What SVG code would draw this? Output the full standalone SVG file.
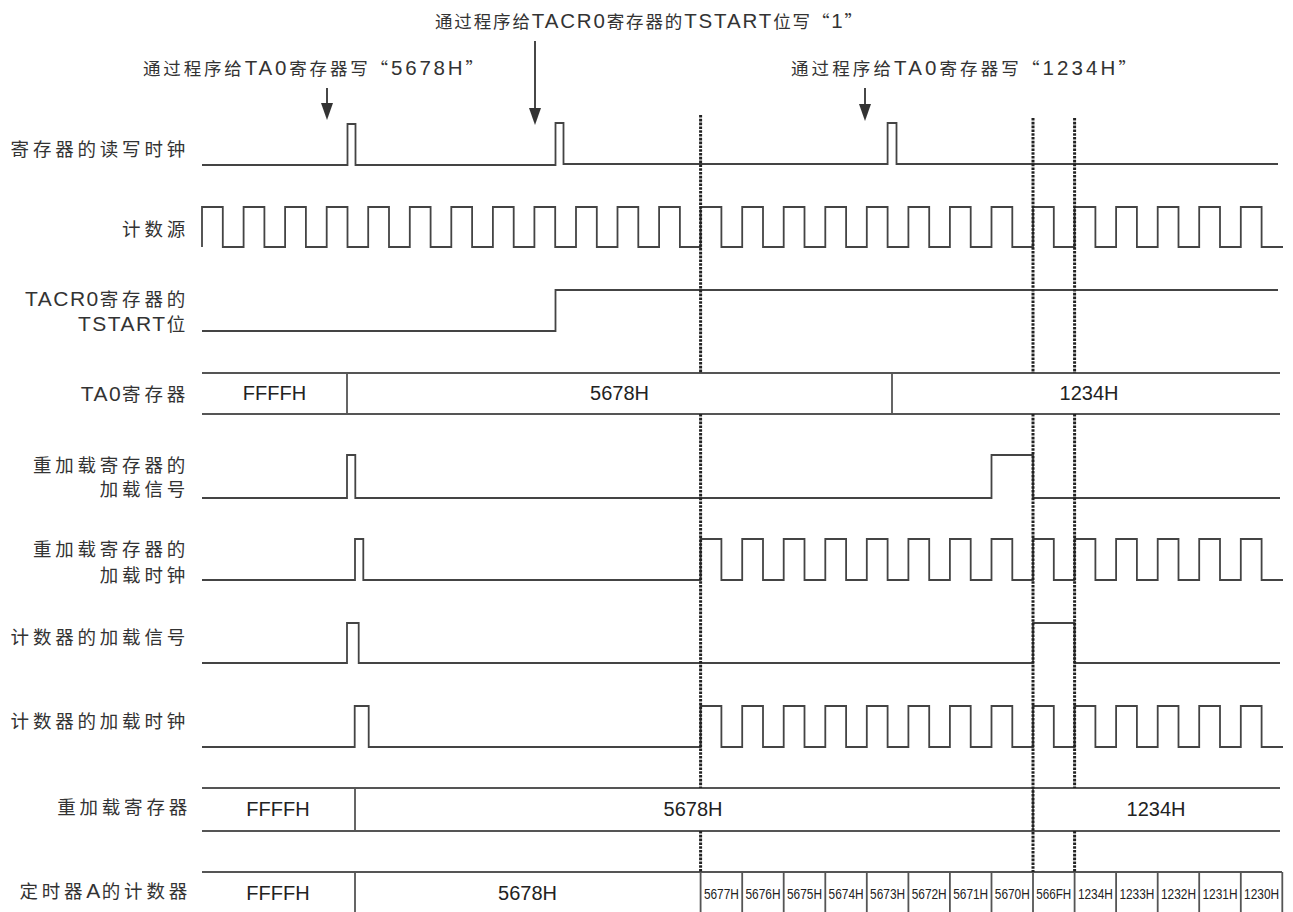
<svg xmlns="http://www.w3.org/2000/svg" width="1293" height="912" viewBox="0 0 1293 912">
<style>
.lbl{font-family:"Liberation Sans","Noto Sans CJK SC",sans-serif;font-size:18.5px;fill:#333;text-anchor:end;letter-spacing:3.8px}
.note{font-family:"Liberation Sans","Noto Sans CJK SC",sans-serif;font-size:17.5px;fill:#333}
.lat{font-size:21px;letter-spacing:1.5px}
.nlat{font-size:20.5px}
.q{font-family:"Noto Sans CJK SC",sans-serif}
.val{font-family:"Liberation Sans",sans-serif;font-size:20px;fill:#222;text-anchor:middle}
.cell{font-family:"Liberation Sans",sans-serif;font-size:15px;fill:#222;text-anchor:middle}
.wave{fill:none;stroke:#444;stroke-width:1.8;stroke-linejoin:miter}
.bus{fill:none;stroke:#555;stroke-width:1.8}
.dot{fill:none;stroke:#222;stroke-width:3;stroke-dasharray:2.6 1.2}
.arr{stroke:#333;stroke-width:1.8}
</style>
<defs>
<marker id="ah" viewBox="0 0 17 12" refX="2" refY="6" markerWidth="17" markerHeight="12" markerUnits="userSpaceOnUse" orient="auto">
<path d="M0,0 L17,6 L0,12 z" fill="#333"/>
</marker>
</defs>
<rect width="1293" height="912" fill="#fff"/>

<g id="notes">
<text class="note" x="435" y="28" textLength="427">通过程序给<tspan class="nlat">TACR0</tspan>寄存器的<tspan class="nlat">TSTART</tspan>位写<tspan class="q">“</tspan><tspan class="nlat">1</tspan><tspan class="q">”</tspan></text>
<text class="note" x="143" y="75" textLength="340">通过程序给<tspan class="nlat">TA0</tspan>寄存器写<tspan class="q">“</tspan><tspan class="nlat">5678H</tspan><tspan class="q">”</tspan></text>
<text class="note" x="791" y="75" textLength="345">通过程序给<tspan class="nlat">TA0</tspan>寄存器写<tspan class="q">“</tspan><tspan class="nlat">1234H</tspan><tspan class="q">”</tspan></text>
</g>

<g id="connectors">
<line class="arr" x1="327" y1="88" x2="327" y2="105" marker-end="url(#ah)"/>
<line class="arr" x1="535" y1="41" x2="535" y2="110" marker-end="url(#ah)"/>
<line class="arr" x1="865" y1="88" x2="865" y2="106" marker-end="url(#ah)"/>
</g>

<g id="sig-rwclk">
<text class="lbl" x="189" y="156">寄存器的读写时钟</text>
<path class="wave" d="M202,165 H347.5 V124 H355.5 V165 H555.5 V123 H563.5 V164 H887.6 V123 H896.5 V164 H1278"/>
</g>

<g id="sig-countsrc">
<text class="lbl" x="189" y="236">计数源</text>
<path class="wave" d="M202,247 V207 H222.8 V247 H243.6 V207 H264.4 V247 H285.1 V207 H305.9 V247 H326.7 V207 H347.5 V247 H368.2 V207 H389 V247 H409.8 V207 H430.6 V247 H451.3 V207 H472.1 V247 H492.9 V207 H513.7 V247 H534.4 V207 H555.2 V247 H576 V207 H596.8 V247 H617.5 V207 H638.3 V247 H659.1 V207 H679.9 V247 H700.6 V207 H721.4 V247 H742.2 V207 H763 V247 H783.7 V207 H804.5 V247 H825.3 V207 H846.1 V247 H866.8 V207 H887.6 V247 H908.4 V207 H929.2 V247 H949.9 V207 H970.7 V247 H991.5 V207 H1012.3 V247 H1033 V207 H1053.8 V247 H1074.6 V207 H1095.4 V247 H1116.1 V207 H1136.9 V247 H1157.7 V207 H1178.5 V247 H1199.2 V207 H1220 V247 H1240.8 V207 H1261.6 V247 H1283"/>
</g>

<g id="sig-tstart">
<text class="lbl" x="189" y="306"><tspan class="lat">TACR0</tspan>寄存器的</text>
<text class="lbl" x="189" y="331"><tspan class="lat">TSTART</tspan>位</text>
<path class="wave" d="M202,331 H555.5 V290 H1278"/>
</g>

<g id="sig-ta0">
<text class="lbl" x="189" y="401"><tspan class="lat">TA0</tspan>寄存器</text>
<path class="bus" d="M202,373 H1280 M202,414 H1280 M347,373 V414 M892,373 V414"/>
<text class="val" x="274.5" y="400">FFFFH</text>
<text class="val" x="619.5" y="400">5678H</text>
<text class="val" x="1089" y="400">1234H</text>
</g>

<g id="sig-reloadsig">
<text class="lbl" x="189" y="472">重加载寄存器的</text>
<text class="lbl" x="189" y="496">加载信号</text>
<path class="wave" d="M202,498 H347 V455 H355.3 V498 H991.5 V455 H1033 V498 H1280"/>
</g>

<g id="sig-reloadclk">
<text class="lbl" x="189" y="556">重加载寄存器的</text>
<text class="lbl" x="189" y="582">加载时钟</text>
<path class="wave" d="M202,580 H355 V539 H363.3 V580 H700.6 V539 H721.4 V580 H742.2 V539 H763 V580 H783.7 V539 H804.5 V580 H825.3 V539 H846.1 V580 H866.8 V539 H887.6 V580 H908.4 V539 H929.2 V580 H949.9 V539 H970.7 V580 H991.5 V539 H1012.3 V580 H1033 V539 H1053.8 V580 H1074.6 V539 H1095.4 V580 H1116.1 V539 H1136.9 V580 H1157.7 V539 H1178.5 V580 H1199.2 V539 H1220 V580 H1240.8 V539 H1261.6 V580 H1283"/>
</g>

<g id="sig-cntloadsig">
<text class="lbl" x="189" y="644">计数器的加载信号</text>
<path class="wave" d="M202,663 H347 V623 H358.7 V663 H1033 V623 H1074.6 V663 H1280"/>
</g>

<g id="sig-cntloadclk">
<text class="lbl" x="189" y="728">计数器的加载时钟</text>
<path class="wave" d="M202,747 H354.7 V706 H368.7 V747 H700.6 V706 H721.4 V747 H742.2 V706 H763 V747 H783.7 V706 H804.5 V747 H825.3 V706 H846.1 V747 H866.8 V706 H887.6 V747 H908.4 V706 H929.2 V747 H949.9 V706 H970.7 V747 H991.5 V706 H1012.3 V747 H1033 V706 H1053.8 V747 H1074.6 V706 H1095.4 V747 H1116.1 V706 H1136.9 V747 H1157.7 V706 H1178.5 V747 H1199.2 V706 H1220 V747 H1240.8 V706 H1261.6 V747 H1283"/>
</g>

<g id="sig-reloadreg">
<text class="lbl" x="191" y="814">重加载寄存器</text>
<path class="bus" d="M202,788 H1280 M202,831 H1280 M355,788 V831 M1033,788 V831"/>
<text class="val" x="278" y="816">FFFFH</text>
<text class="val" x="693" y="816">5678H</text>
<text class="val" x="1156" y="816">1234H</text>
</g>

<g id="sig-counter">
<text class="lbl" x="191" y="898">定时器<tspan class="lat">A</tspan>的计数器</text>
<path class="bus" d="M202,872 H1282 M355,872 V912 M700.6,872 V912 M742.2,872 V912 M783.7,872 V912 M825.3,872 V912 M866.8,872 V912 M908.4,872 V912 M949.9,872 V912 M991.5,872 V912 M1033,872 V912 M1074.6,872 V912 M1116.1,872 V912 M1157.7,872 V912 M1199.2,872 V912 M1240.8,872 V912 M1282.3,872 V912"/>
<text class="val" x="278" y="900">FFFFH</text>
<text class="val" x="527.5" y="900">5678H</text>
<g class="cell">
<text x="721.4" y="899" textLength="35" lengthAdjust="spacingAndGlyphs">5677H</text>
<text x="763" y="899" textLength="35" lengthAdjust="spacingAndGlyphs">5676H</text>
<text x="804.5" y="899" textLength="35" lengthAdjust="spacingAndGlyphs">5675H</text>
<text x="846.1" y="899" textLength="35" lengthAdjust="spacingAndGlyphs">5674H</text>
<text x="887.6" y="899" textLength="35" lengthAdjust="spacingAndGlyphs">5673H</text>
<text x="929.2" y="899" textLength="35" lengthAdjust="spacingAndGlyphs">5672H</text>
<text x="970.7" y="899" textLength="35" lengthAdjust="spacingAndGlyphs">5671H</text>
<text x="1012.3" y="899" textLength="35" lengthAdjust="spacingAndGlyphs">5670H</text>
<text x="1053.8" y="899" textLength="35" lengthAdjust="spacingAndGlyphs">566FH</text>
<text x="1095.4" y="899" textLength="35" lengthAdjust="spacingAndGlyphs">1234H</text>
<text x="1136.9" y="899" textLength="35" lengthAdjust="spacingAndGlyphs">1233H</text>
<text x="1178.5" y="899" textLength="35" lengthAdjust="spacingAndGlyphs">1232H</text>
<text x="1220" y="899" textLength="35" lengthAdjust="spacingAndGlyphs">1231H</text>
<text x="1261.6" y="899" textLength="35" lengthAdjust="spacingAndGlyphs">1230H</text>
</g>
</g>

<g id="guides">
<path class="dot" d="M700.6,115 V373 M700.6,414 V788 M700.6,831 V872"/>
<path class="dot" d="M1033,118 V373 M1033,414 V872"/>
<path class="dot" d="M1074.6,118 V373 M1074.6,414 V788 M1074.6,831 V872"/>
</g>
</svg>
